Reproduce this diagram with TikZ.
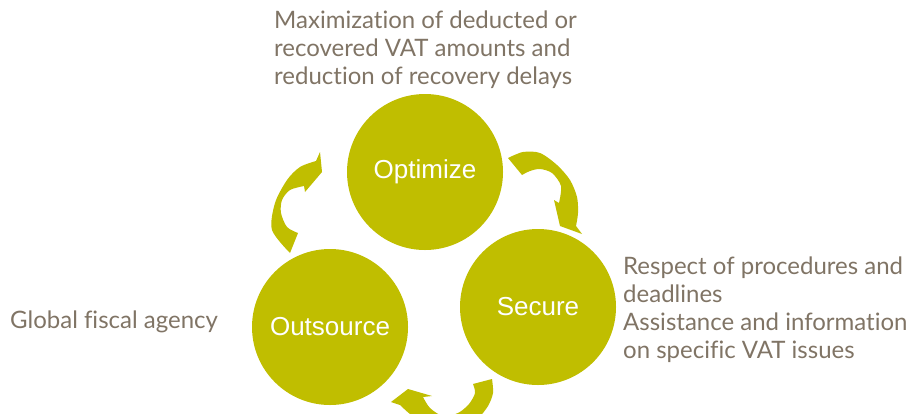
\documentclass[tikz,border=0pt]{standalone}
\usepackage{fontspec}
\setmainfont[Ligatures=NoCommon]{Lato}
\newfontfamily\arialfont{Liberation Sans}
\definecolor{leaf}{HTML}{C0BE00}
\definecolor{taupe}{HTML}{807465}
\tikzset{
  bubble/.style={circle, fill=leaf, minimum size=156pt, inner sep=0pt, text=white, font=\arialfont\fontsize{26}{26}\selectfont},
  note/.style={align=left, inner sep=0pt, anchor=north west, text=taupe, font=\fontsize{24}{28}\selectfont},
  swirl/.style={fill=leaf},
}
\begin{document}
\begin{tikzpicture}[x=1pt, y=-1pt]
  \useasboundingbox (0,0) rectangle (917,413);
  \node[bubble] (opt) at (425,172) {Optimize};
  \node[bubble] (sec) at (538,307) {Secure};
  \node[bubble] (out) at (330,327) {Outsource};
  \node[note] (optnote) at (274,11) {Maximization of deducted or\\recovered VAT amounts and\\reduction of recovery delays};
  \node[note] (secnote) at (623,257) {Respect of procedures and\\deadlines\\Assistance and information\\on specific VAT issues};
  \node[note] (outnote) at (10,311) {Global fiscal agency};
  \fill[swirl] (290,253) -- plot[smooth] coordinates {(290,253) (272,230) (275,203) (287,180) (300,167) (316,161)}
    -- (320,152) -- (322,172) -- (305,192) -- (304,186)
    -- plot[smooth] coordinates {(304,186) (290,190) (282,200) (281,213) (287,227) (298,233)} -- cycle;
  \fill[swirl] (508,158) -- plot[smooth] coordinates {(508,158) (523,152) (540,153) (557,165) (570,180) (577,197) (578,213) (576,226)}
    -- (582,234) -- (560,226) -- (554,200) -- (559,203)
    -- plot[smooth] coordinates {(559,203) (561,186) (552,173) (540,169) (530,171) (522,175)} -- cycle;
  \fill[swirl] (492,379) -- plot[smooth] coordinates {(492,379) (493,393) (488,406) (478,418) (462,426) (443,428) (425,424) (410,414) (400,405)}
    -- (391,402) -- (408,389) -- (432,396) -- (423,397)
    -- plot[smooth] coordinates {(423,397) (430,408) (443,416) (458,413) (469,404) (475,393) (473,384)} -- cycle;
\end{tikzpicture}
\end{document}
